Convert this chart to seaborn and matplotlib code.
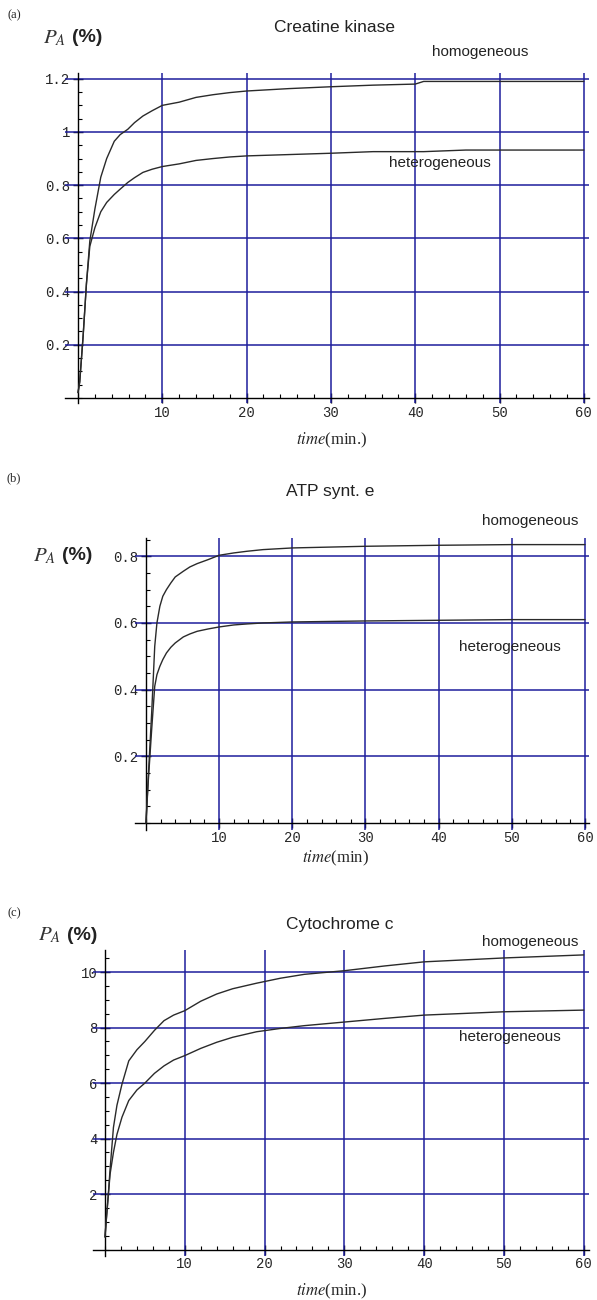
import matplotlib
matplotlib.use("Agg")
import matplotlib.pyplot as plt
import seaborn as sns
import pandas as pd
from matplotlib.ticker import MultipleLocator, FixedLocator

# ---------------- data ----------------
# (a) Creatine kinase
time_a = [0, 0.2, 0.6, 1.0, 1.4, 2.0, 2.7, 3.4, 4.3, 5.0, 5.9, 6.7, 7.7, 8.8, 10, 12, 14, 16, 18, 20,
          25, 30, 35, 40, 41, 46, 50, 60]
homog_a = [0.02, 0.06, 0.23, 0.43, 0.59, 0.71, 0.83, 0.90, 0.965, 0.99, 1.01, 1.035, 1.06, 1.08, 1.10,
           1.112, 1.13, 1.14, 1.148, 1.154, 1.163, 1.17, 1.176, 1.18, 1.19, 1.19, 1.19, 1.19]
heter_a = [0.02, 0.06, 0.23, 0.43, 0.57, 0.64, 0.70, 0.735, 0.765, 0.785, 0.81, 0.828, 0.848, 0.86, 0.87,
           0.88, 0.893, 0.90, 0.906, 0.91, 0.915, 0.92, 0.926, 0.926, 0.926, 0.932, 0.932, 0.932]

# (b) ATP synt. e
time_b = [0, 0.3, 0.78, 1.2, 1.5, 1.9, 2.3, 2.8, 3.4, 4, 5.1, 6, 7, 8.5, 10, 12, 13.8, 16, 20,
          30, 40, 50, 60]
homog_b = [0.0, 0.13, 0.33, 0.53, 0.60, 0.65, 0.68, 0.70, 0.72, 0.738, 0.755, 0.768, 0.778, 0.79,
           0.803, 0.81, 0.815, 0.82, 0.825, 0.83, 0.833, 0.835, 0.835]
heter_b = [0.0, 0.12, 0.28, 0.41, 0.445, 0.47, 0.49, 0.51, 0.527, 0.54, 0.558, 0.567, 0.575, 0.582,
           0.588, 0.594, 0.597, 0.60, 0.603, 0.606, 0.608, 0.61, 0.61]

# (c) Cytochrome c
time_c = [0, 0.2, 0.43, 0.64, 1.06, 1.5, 2.13, 2.98, 4.0, 5.0, 6.2, 7.4, 8.6, 10, 12, 14, 16, 19, 22,
          25, 30, 35, 40, 50, 60]
homog_c = [0.45, 1.2, 2.03, 2.9, 4.4, 5.2, 5.96, 6.8, 7.2, 7.5, 7.9, 8.25, 8.45, 8.61, 8.95, 9.21,
           9.4, 9.6, 9.78, 9.92, 10.05, 10.22, 10.37, 10.51, 10.62]
heter_c = [0.45, 1.2, 2.0, 2.72, 3.5, 4.15, 4.77, 5.37, 5.75, 6.0, 6.35, 6.62, 6.83, 6.99, 7.25, 7.47,
           7.65, 7.85, 7.97, 8.07, 8.2, 8.33, 8.45, 8.57, 8.63]

titles = ["Creatine kinase", "ATP synt. e", "Cytochrome c"]
panel_tags = ["(a)", "(b)", "(c)"]
xticks = [10, 20, 30, 40, 50, 60]
yticks_a = [0.2, 0.4, 0.6, 0.8, 1.0, 1.2]
ylabels_a = ["0.2", "0.4", "0.6", "0.8", "1", "1.2"]
yticks_b = [0.2, 0.4, 0.6, 0.8]
ylabels_b = ["0.2", "0.4", "0.6", "0.8"]
yticks_c = [2, 4, 6, 8, 10]
ylabels_c = ["2", "4", "6", "8", "10"]
xlabels = ["(min.)", "(min)", "(min.)"]

# ---------------- style ----------------
sns.set_style("white")
plt.rcParams['font.family'] = ['Liberation Sans', 'DejaVu Sans']
plt.rcParams['mathtext.fontset'] = 'stix'

W, H = 597, 1300
fig = plt.figure(figsize=(W / 100, H / 100), dpi=100)
GRID = "#1e1e9c"

def px(x, y):
    return x / W, 1 - y / H

panels = [
    dict(t=time_a, ho=homog_a, he=heter_a, rect=[0.1095, 0.6898, 0.8769, 0.2537],
         ylim=(-0.02, 1.22), yt=yticks_a, yl=ylabels_a, ymin=0.05),
    dict(t=time_b, ho=homog_b, he=heter_b, rect=[0.2261, 0.3618, 0.7611, 0.2244],
         ylim=(-0.02, 0.855), yt=yticks_b, yl=ylabels_b, ymin=0.05),
    dict(t=time_c, ho=homog_c, he=heter_c, rect=[0.1558, 0.0335, 0.830, 0.2358],
         ylim=(-0.25, 10.8), yt=yticks_c, yl=ylabels_c, ymin=0.5),
]

for i, p in enumerate(panels):
    ax = fig.add_axes(p["rect"])
    df = pd.DataFrame({
        "time": list(p["t"]) * 2,
        "PA": list(p["ho"]) + list(p["he"]),
        "type": ["homogeneous"] * len(p["t"]) + ["heterogeneous"] * len(p["t"]),
    })
    sns.lineplot(data=df, x="time", y="PA", hue="type", palette=["#2a2a2a", "#2a2a2a"],
                 estimator=None, sort=False, linewidth=1.0, legend=False, ax=ax, zorder=3)
    ax.set_xlim(-1.5, 60.6)
    ax.set_ylim(*p["ylim"])
    for xv in xticks:
        ax.axvline(xv, color=GRID, lw=1.1, zorder=1)
    for yv in p["yt"]:
        ax.axhline(yv, color=GRID, lw=1.1, zorder=1)
    for s in ["top", "right"]:
        ax.spines[s].set_visible(False)
    ax.spines["left"].set_position(("data", 0))
    ax.spines["bottom"].set_position(("data", 0))
    for s in ["left", "bottom"]:
        ax.spines[s].set_color("black")
        ax.spines[s].set_linewidth(1.0)
    ax.xaxis.set_major_locator(FixedLocator(xticks))
    ax.set_xticklabels([str(x) for x in xticks], family="Liberation Mono", fontsize=10)
    ax.yaxis.set_major_locator(FixedLocator(p["yt"]))
    ax.set_yticklabels(p["yl"], family="Liberation Mono", fontsize=10)
    ax.xaxis.set_minor_locator(MultipleLocator(2))
    ax.yaxis.set_minor_locator(MultipleLocator(p["ymin"]))
    ax.tick_params(which="major", direction="inout", length=7, width=1, color="black", pad=2)
    ax.tick_params(which="minor", direction="in", length=3, width=0.8, color="black")
    ax.tick_params(axis="x", which="both", bottom=True)
    ax.tick_params(axis="y", which="both", left=True)
    ax.set_xlabel("")
    ax.set_ylabel("")
    ax.grid(False)

# ---------------- texts ----------------
tag_y = [15, 478, 913]
title_pos = [(335, 27), (330, 492), (340, 924)]
homog_pos = [(480, 52), (530, 521), (530, 942)]
heter_pos = [(440, 163), (510, 647), (510, 1037)]
pa_pos = [(55, 38), (45, 556), (50, 935)]
xl_pos = [(332, 440), (335, 858), (332, 1291)]

for i in range(3):
    fig.text(*px(14, tag_y[i]), panel_tags[i], family="Liberation Serif", fontsize=9,
             ha="center", va="center")
    fig.text(*px(*title_pos[i]), titles[i], fontsize=12.5, ha="center", va="center", color="#222222")
    fig.text(*px(*homog_pos[i]), "homogeneous", fontsize=11, ha="center", va="center", color="#222222")
    fig.text(*px(*heter_pos[i]), "heterogeneous", fontsize=11, ha="center", va="center", color="#222222")
    fig.text(*px(*pa_pos[i]), r"$P_A$", fontsize=15, ha="center", va="center", color="#333333")
    fig.text(*px(pa_pos[i][0] + 32, pa_pos[i][1]), "(%)", fontsize=14, fontweight="bold",
             ha="center", va="center", color="#222222")
    fig.text(*px(*xl_pos[i]), r"$\mathit{time}$" + xlabels[i], family="Liberation Serif",
             fontsize=12, ha="center", va="center")

fig.savefig("out.png", dpi=100)
